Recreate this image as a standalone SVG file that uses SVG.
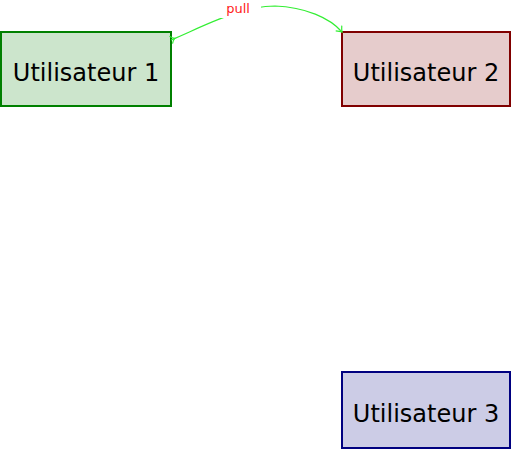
<svg xmlns="http://www.w3.org/2000/svg" width="511" height="449" viewBox="0 0 511 449">
<style>
.lbl{font-family:"DejaVu Sans",sans-serif;font-size:24px;fill:#000;text-anchor:middle}
.edge{fill:none;stroke:#33ee33;stroke-width:1.2}
.elbl{font-family:"DejaVu Sans",sans-serif;font-size:13px;fill:#ff2020;text-anchor:middle}
</style>
<defs>
<marker id="arr" viewBox="-6 -5 8 10" markerWidth="8" markerHeight="10" refX="0" refY="0" orient="auto" markerUnits="userSpaceOnUse">
<path d="M-5,-4 Q-2,-1 0,0 Q-2,1 -5,4" fill="none" stroke="#33ee33" stroke-width="1.2"/>
</marker>
<marker id="tail" viewBox="-2 -5 8 10" markerWidth="8" markerHeight="10" refX="0" refY="0" orient="auto" markerUnits="userSpaceOnUse">
<path d="M0,-4 Q2,-1 4,0 Q2,1 0,4" fill="none" stroke="#33ee33" stroke-width="1.2"/>
</marker>
</defs>
<g id="n1">
<rect x="1" y="32" width="170" height="74" fill="#cce5cc" stroke="#008000" stroke-width="2"/>
<text class="lbl" x="86" y="81">Utilisateur 1</text>
</g>
<g id="n2">
<rect x="342" y="32" width="168" height="74" fill="#e6cccc" stroke="#800000" stroke-width="2"/>
<text class="lbl" x="426" y="81">Utilisateur 2</text>
</g>
<g id="n3">
<rect x="342" y="372" width="168" height="76" fill="#ccccE6" stroke="#000080" stroke-width="2"/>
<text class="lbl" x="426" y="422">Utilisateur 3</text>
</g>
<g id="edges">
<path class="edge" d="M171,40 C200,28 240,6 275,6 C305,7 330,18 342,32" marker-start="url(#tail)" marker-end="url(#arr)"/>
<rect x="217" y="0" width="44" height="18" fill="#fff"/>
<text class="elbl" x="238" y="13">pull</text>
</g>
</svg>
